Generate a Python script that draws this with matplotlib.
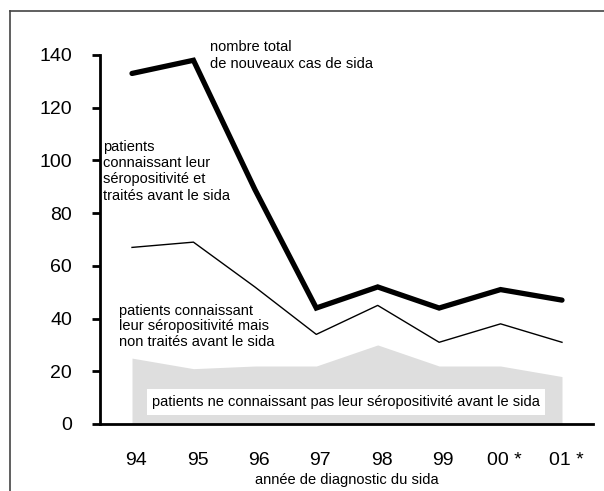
import matplotlib.pyplot as plt
from matplotlib.lines import Line2D
import matplotlib.transforms as mtransforms
import numpy as np

# data
annees = ['94', '95', '96', '97', '98', '99', '00 *', '01 *']
total = [133, 138, 89, 44, 52, 44, 51, 47]
connus_non_traites = [67, 69, 52, 34, 45, 31, 38, 31]
non_connus = [25, 21, 22, 22, 30, 22, 22, 18]
yticks = [0, 20, 40, 60, 80, 100, 120, 140]

plt.rcParams['font.family'] = ['Liberation Sans', 'DejaVu Sans']

fig = plt.figure(figsize=(6.04, 4.91), dpi=100)
ax = fig.add_axes([100 / 604, 67 / 491, 493 / 604, 369 / 491])

x = np.arange(len(annees))

# zone grise : patients ne connaissant pas leur séropositivité
ax.fill_between(x, 0, non_connus, color='#dedede', lw=0)
# ligne fine
ax.plot(x, connus_non_traites, color='black', lw=1.0)
# ligne épaisse : total
ax.plot(x, total, color='black', lw=3.8, solid_joinstyle='miter', solid_capstyle='round')

ax.set_xlim(-32 / 61.4, 7 + 31 / 61.4)
ax.set_ylim(0, 140)

# axes
for s in ['top', 'right']:
    ax.spines[s].set_visible(False)
ax.spines['left'].set_linewidth(2)
ax.spines['bottom'].set_linewidth(2)
ax.set_yticks(yticks)
ax.tick_params(axis='y', direction='out', length=6, width=2, labelsize=14, pad=14)
ax.set_xticks(x)
ax.set_xticklabels(annees)
ax.tick_params(axis='x', length=0, labelsize=14, pad=20)
for lab in ax.get_xticklabels():
    lab.set_transform(lab.get_transform() + mtransforms.ScaledTranslation(4 / 100, 0, fig.dpi_scale_trans))

ax.set_xlabel('année de diagnostic du sida', fontsize=10.5, labelpad=3)

# textes
fs = 10.5
fig.text(210 / 604, 1 - 40 / 491, 'nombre total\nde nouveaux cas de sida',
         fontsize=fs, va='top', ha='left', linespacing=1.3)
fig.text(103 / 604, 1 - 140 / 491, 'patients\nconnaissant leur\nséropositivité et\ntraités avant le sida',
         fontsize=fs, va='top', ha='left', linespacing=1.2)
fig.text(119 / 604, 1 - 304 / 491, 'patients connaissant\nleur séropositivité mais\nnon traités avant le sida',
         fontsize=fs, va='top', ha='left', linespacing=1.13)
fig.text(346 / 604, 1 - 402 / 491, 'patients ne connaissant pas leur séropositivité avant le sida',
         fontsize=fs, va='center', ha='center',
         bbox=dict(facecolor='white', edgecolor='none', pad=4))

# cadre partiel (haut et gauche)
fig.add_artist(Line2D([10 / 604, 1], [1 - 11 / 491, 1 - 11 / 491], color='#444444', lw=1.2,
                      transform=fig.transFigure))
fig.add_artist(Line2D([10 / 604, 10 / 604], [0, 1 - 11 / 491], color='#444444', lw=1.2,
                      transform=fig.transFigure))

fig.savefig('out.png', dpi=100)
